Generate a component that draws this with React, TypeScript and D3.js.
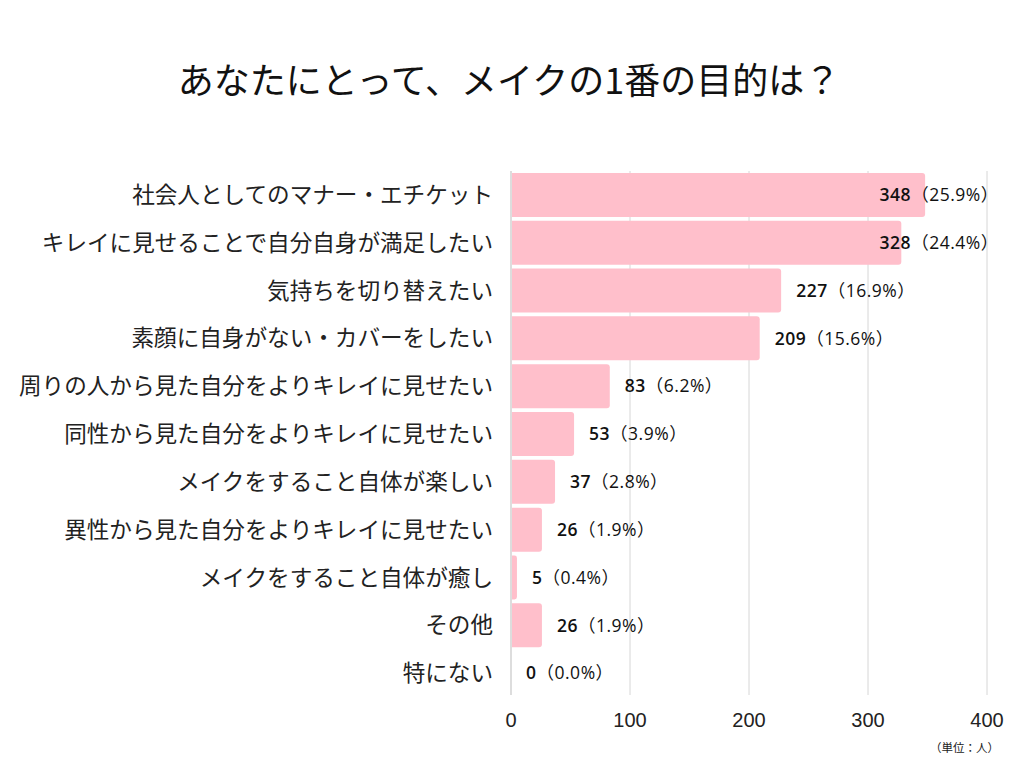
import React from "react";
import * as d3 from "d3";

const categories = [
  "社会人としてのマナー・エチケット",
  "キレイに見せることで自分自身が満足したい",
  "気持ちを切り替えたい",
  "素顔に自身がない・カバーをしたい",
  "周りの人から見た自分をよりキレイに見せたい",
  "同性から見た自分をよりキレイに見せたい",
  "メイクをすること自体が楽しい",
  "異性から見た自分をよりキレイに見せたい",
  "メイクをすること自体が癒し",
  "その他",
  "特にない",
];
const values = [348, 328, 227, 209, 83, 53, 37, 26, 5, 26, 0];
const percents = ["25.9%", "24.4%", "16.9%", "15.6%", "6.2%", "3.9%", "2.8%", "1.9%", "0.4%", "1.9%", "0.0%"];
const xTicks = [0, 100, 200, 300, 400];
const title = "あなたにとって、メイクの1番の目的は？";
const unitLabel = "（単位：人）";

const W = 1024;
const H = 768;
const left = 511;
const right = 987;
const top = 171;
const bottom = 697;
const JP = "'Noto Sans CJK JP', 'Noto Sans', sans-serif";
const NUM = "'Open Sans', 'Noto Sans', sans-serif";

function approxWidth(v: number, p: string) {
  return String(v).length * 11.3 + 35 + p.length * 9.9;
}

export default function App() {
  const x = d3.scaleLinear().domain([0, 400]).range([left, right]);
  const y = d3.scaleBand<string>().domain(categories).range([top, bottom]).paddingInner(0.08).paddingOuter(0.04);
  const r = 3;
  return (
    <svg width={W} height={H} style={{ display: "block", position: "absolute", left: 0, top: 0, background: "#fff" }}>
      <text x={509} y={94} textAnchor="middle" fontFamily={JP} fontSize={36} fill="#111">
        {title}
      </text>
      {xTicks.map((t) => (
        <line key={"g" + t} x1={x(t)} x2={x(t)} y1={top} y2={695} stroke={t === 0 ? "#bbb" : "#d6d6d6"} strokeWidth={1} />
      ))}
      {xTicks.map((t) => (
        <text key={"t" + t} x={x(t)} y={727} textAnchor="middle" fontFamily="'Liberation Sans', Arial, sans-serif" fontSize={20} fill="#222">
          {t}
        </text>
      ))}
      {categories.map((c, i) => {
        const y0 = y(c)!;
        const bh = y.bandwidth();
        const x0 = x(0) + 1;
        const x1 = x(values[i]);
        const w = Math.max(0, x1 - x0);
        const rr = Math.min(r, w / 2);
        const path =
          w > 0
            ? `M${x0},${y0} H${x1 - rr} Q${x1},${y0} ${x1},${y0 + rr} V${y0 + bh - rr} Q${x1},${y0 + bh} ${x1 - rr},${y0 + bh} H${x0} Z`
            : "";
        const tw = approxWidth(values[i], percents[i]);
        let lx = x1 + 15;
        if (lx + tw > 998) lx = 998 - tw;
        const cy = y0 + bh / 2;
        return (
          <g key={c}>
            {path && <path d={path} fill="#FFBFCB" />}
            <text x={493} y={cy} dy="0.36em" textAnchor="end" fontFamily={JP} fontSize={22.6} fill="#222">
              {c}
            </text>
            <text x={lx} y={cy} dy="0.36em" fontFamily={NUM} fontSize={17.5} letterSpacing={0.5} fill="#111">
              <tspan fontWeight={600}>{values[i]}</tspan>
              <tspan fontFamily={JP} fontWeight={400}>（</tspan>
              <tspan fontWeight={500}>{percents[i]}</tspan>
              <tspan fontFamily={JP} fontWeight={400}>）</tspan>
            </text>
          </g>
        );
      })}
      <text x={999} y={752} textAnchor="end" fontFamily={JP} fontSize={11.5} fill="#222">
        {unitLabel}
      </text>
    </svg>
  );
}
